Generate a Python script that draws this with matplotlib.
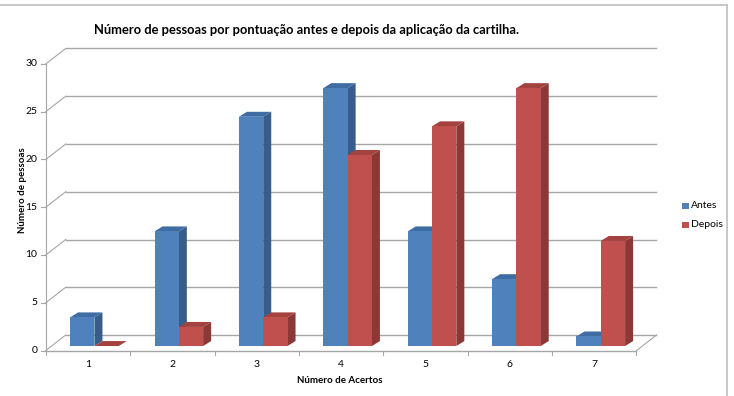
import matplotlib.pyplot as plt
from matplotlib.patches import Polygon

# valores
categorias = ["1", "2", "3", "4", "5", "6", "7"]
antes = [3, 12, 24, 27, 12, 7, 1]
depois = [0, 2, 3, 20, 23, 27, 11]
yticks = [0, 5, 10, 15, 20, 25, 30]

plt.rcParams['font.family'] = ['Lato', 'DejaVu Sans']

# profundidade do "3D"
DX, DY = 0.237, 1.62      # parede de fundo
BOX, BOY = 0.077, 0.47    # deslocamento da face da barra
BDX, BDY = 0.095, 0.52    # espessura da barra
W = 0.288

cores = {
    "Antes": ("#4f81bd", "#385d8a", "#3f6ca3"),
    "Depois": ("#c0504d", "#8c3836", "#a3423f"),
}

fig = plt.figure(figsize=(7.34, 3.96), dpi=100)
ax = fig.add_axes([0.0485, 0.0859, 0.8704, 0.825])
ax.set_xlim(-0.12, 7.45)
ax.set_ylim(-1.2, 33)
ax.axis("off")

grid = "#a6a6a6"
n = len(categorias)
for v in yticks:
    ax.plot([DX, n + DX], [v + DY, v + DY], color=grid, lw=1, zorder=1)
    ax.plot([0, DX], [v, v + DY], color=grid, lw=0.8, zorder=1)
    ax.plot([-0.06, 0], [v, v], color=grid, lw=0.8)
    ax.text(-0.1, v, str(v), ha="right", va="center", fontsize=7.5)
ax.plot([0, 0], [0, 30], color=grid, lw=0.8, zorder=1)
ax.plot([0, n], [0, 0], color=grid, lw=1, zorder=1)
ax.plot([n, n + DX], [0, DY], color=grid, lw=0.8, zorder=1)
for i in range(n + 1):
    ax.plot([i, i], [0, -0.5], color=grid, lw=0.8)
for i, c in enumerate(categorias):
    ax.text(i + 0.5, -1.45, c, ha="center", va="center", fontsize=7.5)


def barra(x0, h, serie, z):
    frente, lado, topo = cores[serie]
    x = x0 + BOX
    y = BOY
    ax.add_patch(Polygon([(x + W, y), (x + W + BDX, y + BDY), (x + W + BDX, y + h + BDY), (x + W, y + h)],
                         closed=True, fc=lado, ec="none", zorder=z))
    ax.add_patch(Polygon([(x, y + h), (x + BDX, y + h + BDY), (x + W + BDX, y + h + BDY), (x + W, y + h)],
                         closed=True, fc=topo, ec="none", zorder=z))
    if h > 0:
        ax.add_patch(Polygon([(x, y), (x + W, y), (x + W, y + h), (x, y + h)],
                             closed=True, fc=frente, ec="none", zorder=z))


z = 3
for i in range(n):
    centro = i + 0.5
    barra(centro - W, antes[i], "Antes", z)
    z += 1
    barra(centro, depois[i], "Depois", z)
    z += 1

fig.text(0.4176, 0.924, "Número de pessoas por pontuação antes e depois da aplicação da cartilha.",
         ha="center", va="center", fontsize=9.3, fontweight="bold")
fig.text(0.463, 0.04, "Número de Acertos", ha="center", va="center", fontsize=7, fontweight="bold")
fig.text(0.03, 0.52, "Número de pessoas", ha="center", va="center", fontsize=7,
         fontweight="bold", rotation=90)

# legenda
for k, (serie, yy) in enumerate([("Antes", 0.48), ("Depois", 0.432)]):
    fig.patches.append(plt.Rectangle((0.929, yy - 0.009), 0.0095, 0.0175, transform=fig.transFigure,
                                     fc=cores[serie][0], ec="none"))
    fig.text(0.942, yy, serie, ha="left", va="center", fontsize=7.5)

# moldura
fig.add_artist(plt.Line2D([0, 0.991], [0.988, 0.988], color="#bfbfbf", lw=1.2, transform=fig.transFigure))
fig.add_artist(plt.Line2D([0.991, 0.991], [0.0, 0.988], color="#bfbfbf", lw=1.2, transform=fig.transFigure))

fig.savefig("out.png", dpi=100)
